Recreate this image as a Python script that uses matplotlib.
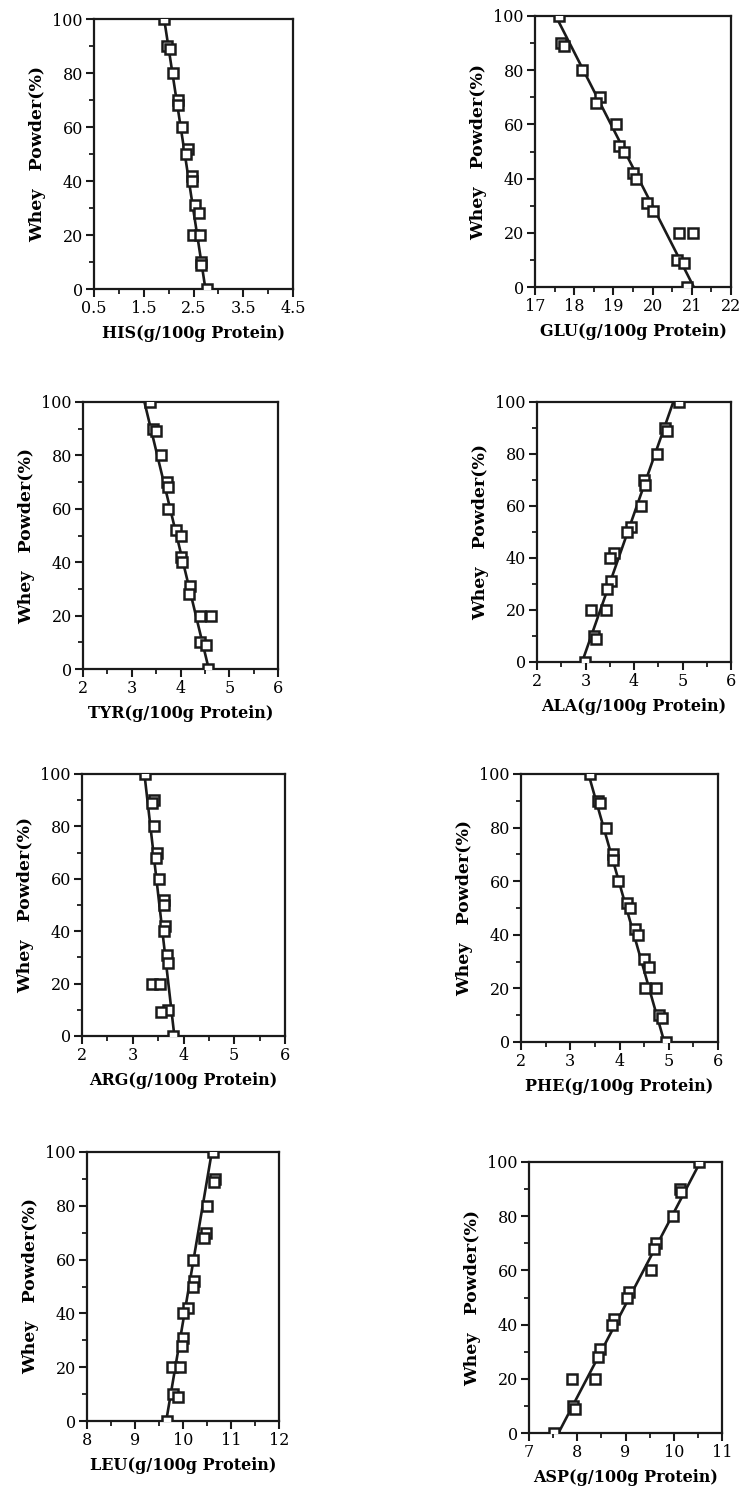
import numpy as np
import matplotlib
matplotlib.use("Agg")
import matplotlib.pyplot as plt
from matplotlib.ticker import MultipleLocator

# Data section
whey_y = [100, 90, 89, 80, 70, 68, 60, 52, 50, 42, 40, 31, 28, 20, 20, 10, 9, 0]

his_x = [1.90, 1.96, 2.03, 2.09, 2.19, 2.18, 2.26, 2.38, 2.35, 2.47, 2.46, 2.53, 2.61, 2.48, 2.63, 2.66, 2.65, 2.77]
glu_x = [17.62, 17.67, 17.74, 18.19, 18.66, 18.55, 19.06, 19.14, 19.26, 19.51, 19.58, 19.85, 20.02, 20.68, 21.02, 20.62, 20.81, 20.88]
tyr_x = [3.37, 3.44, 3.49, 3.59, 3.73, 3.74, 3.74, 3.91, 4.02, 4.02, 4.04, 4.19, 4.18, 4.41, 4.62, 4.41, 4.52, 4.56]
ala_x = [4.92, 4.64, 4.69, 4.47, 4.21, 4.23, 4.15, 3.93, 3.85, 3.58, 3.51, 3.52, 3.44, 3.12, 3.43, 3.17, 3.22, 2.99]
arg_x = [3.25, 3.42, 3.38, 3.41, 3.48, 3.46, 3.52, 3.61, 3.62, 3.64, 3.62, 3.67, 3.70, 3.38, 3.53, 3.70, 3.55, 3.80]
phe_x = [3.41, 3.57, 3.60, 3.72, 3.87, 3.86, 3.96, 4.15, 4.21, 4.32, 4.38, 4.49, 4.59, 4.52, 4.75, 4.81, 4.87, 4.94]
leu_x = [10.63, 10.66, 10.64, 10.50, 10.47, 10.44, 10.20, 10.22, 10.21, 10.10, 10.01, 9.99, 9.97, 9.78, 9.94, 9.79, 9.90, 9.66]
asp_x = [10.52, 10.12, 10.14, 9.98, 9.64, 9.60, 9.53, 9.08, 9.04, 8.76, 8.73, 8.47, 8.44, 7.90, 8.37, 7.91, 7.96, 7.51]

# regression line ends (x at 100 %, x at 0 %)
line_y = [100, 0]
his_line = [1.91, 2.74]
glu_line = [17.53, 21.05]
tyr_line = [3.26, 4.58]
ala_line = [4.81, 2.93]
arg_line = [3.23, 3.82]
phe_line = [3.37, 4.91]
leu_line = [10.60, 9.65]
asp_line = [10.55, 7.61]

names = ["HIS", "GLU", "TYR", "ALA", "ARG", "PHE", "LEU", "ASP"]
xs = [his_x, glu_x, tyr_x, ala_x, arg_x, phe_x, leu_x, asp_x]
lines = [his_line, glu_line, tyr_line, ala_line, arg_line, phe_line, leu_line, asp_line]
xlims = [(0.5, 4.5), (17, 22), (2, 6), (2, 6), (2, 6), (2, 6), (8, 12), (7, 11)]

# panel boxes in pixels: left, right, top, bottom
boxes = [(94, 293, 19, 289), (535, 731, 16, 287),
         (83, 278, 402, 669), (537, 731, 402, 662),
         (82, 285, 774, 1036), (521, 718, 774, 1042),
         (87, 279, 1152, 1421), (529, 722, 1162, 1433)]

W, H = 742, 1489
fig = plt.figure(figsize=(W / 100, H / 100), dpi=100)
fig.patch.set_facecolor("white")

serif = ["DejaVu Serif"]
ink = "#1a1a1a"

for i in range(8):
    l, r, t, b = boxes[i]
    ax = fig.add_axes([l / W, 1 - b / H, (r - l) / W, (b - t) / H])
    ax.plot(lines[i], line_y, color=ink, lw=1.9, zorder=2)
    ax.plot(xs[i], whey_y, ls="none", marker="s", ms=6.5, mfc="white",
            mec=ink, mew=1.8, zorder=3)
    lo, hi = xlims[i]
    ax.set_xlim(lo, hi)
    ax.set_ylim(0, 100)
    ax.set_xticks(np.arange(lo, hi + 0.01, 1))
    ax.set_xticks(np.arange(lo + 0.5, hi, 1), minor=True)
    ax.yaxis.set_major_locator(MultipleLocator(20))
    ax.yaxis.set_minor_locator(MultipleLocator(10))
    ax.tick_params(which="major", direction="out", length=6, width=1.5,
                   labelsize=11.5, color=ink, pad=2)
    ax.tick_params(which="minor", direction="out", length=3.5, width=1.3, color=ink)
    for lab in ax.get_xticklabels() + ax.get_yticklabels():
        lab.set_family(serif)
    for sp in ax.spines.values():
        sp.set_linewidth(1.6)
        sp.set_color(ink)
    ax.set_xlabel(names[i] + "(g/100g Protein)", family=serif, fontsize=11.5,
                  fontweight="bold", labelpad=6)
    ax.set_ylabel("Whey   Powder(%)", family=serif, fontsize=12.5,
                  fontweight="bold")
    ax.yaxis.set_label_coords(-48 / (r - l), 0.5)

fig.savefig("out.png", dpi=100, facecolor="white")
